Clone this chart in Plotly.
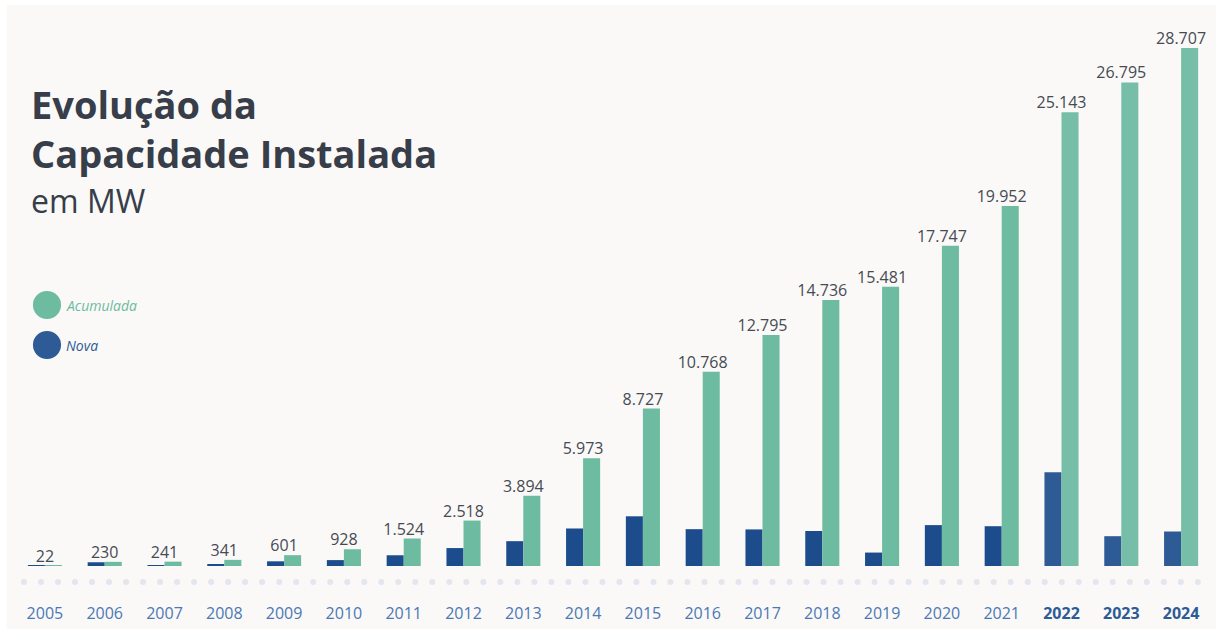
import plotly.graph_objects as go
import numpy as np

years = [str(y) for y in range(2005, 2025)]
acumulada = [22, 230, 241, 341, 601, 928, 1524, 2518, 3894, 5973, 8727,
             10768, 12795, 14736, 15481, 17747, 19952, 25143, 26795, 28707]
nova = [22, 208, 11, 100, 260, 327, 596, 994, 1376, 2079, 2754,
        2041, 2027, 1941, 745, 2266, 2205, 5191, 1652, 1912]
highlight_years = ["2022", "2023", "2024"]

GREEN = "#6dbba0"
GREEN_L = "#76bea7"
BLUE = "#1c4c8c"
BLUE_L = "#2e5b95"
TICK = "#4a78b4"
TEXT = "#373e49"
BG = "#faf9f8"

nova_colors = [BLUE_L if y in highlight_years else BLUE for y in years]
acum_colors = [GREEN_L if y in highlight_years else GREEN for y in years]
labels = [f"{v:,}".replace(",", ".") for v in acumulada]

fig = go.Figure()
fig.add_trace(go.Bar(x=years, y=nova, name="Nova", marker=dict(color=nova_colors, line=dict(width=0)),
                     hoverinfo="x+y"))
fig.add_trace(go.Bar(x=years, y=acumulada, name="Acumulada",
                     marker=dict(color=acum_colors, line=dict(width=0)), hoverinfo="x+y"))

# value labels
fig.add_trace(go.Scatter(x=years, y=acumulada, mode="text", text=labels, textposition="top center",
                         cliponaxis=False, hoverinfo="skip", showlegend=False,
                         textfont=dict(family="Open Sans", size=16, color="#464b53")))

# tick labels
ticktext = [f"<b><span style='color:{BLUE_L}'>{y}</span></b>" if y in highlight_years else y for y in years]

# dotted baseline decoration (pixel-based overlay axis)
dots_x = np.linspace(0.0075, 0.989, 70)
fig.add_trace(go.Scatter(x=dots_x, y=[-16] * len(dots_x), mode="markers", xaxis="x2", yaxis="y2",
                         marker=dict(size=6, color="#e3e6ee"), hoverinfo="skip", showlegend=False))

PX_TOTAL = 579          # plot-area height in pixels
PX_BELOW = 33           # pixels kept below the zero line
Y_TOP = 30258
per_px = Y_TOP / (PX_TOTAL - PX_BELOW)

fig.update_layout(
    width=1216, height=629,
    margin=dict(l=15, r=5, t=20, b=30, autoexpand=False),
    paper_bgcolor="white", plot_bgcolor="rgba(0,0,0,0)",
    barmode="group", bargap=0.43, bargroupgap=0,
    showlegend=False,
    xaxis=dict(type="category", categoryorder="array", categoryarray=years, range=[-0.5, 19.5],
               tickvals=years, ticktext=ticktext, showgrid=False, zeroline=False,
               showline=False, ticks="", ticklabelstandoff=3, tickangle=0, automargin=False,
               tickfont=dict(family="Open Sans", size=16, color=TICK)),
    yaxis=dict(range=[-PX_BELOW * per_px, Y_TOP], visible=False, showgrid=False, zeroline=False),
    xaxis2=dict(range=[0, 1], overlaying="x", visible=False),
    yaxis2=dict(range=[-PX_BELOW, PX_TOTAL - PX_BELOW], overlaying="y", visible=False),
    font=dict(family="Open Sans"),
)

# background panel
fig.add_shape(type="rect", xref="paper", yref="paper", x0=-0.007, x1=1.01, y0=-0.2, y1=1.026,
              fillcolor=BG, line=dict(width=0), layer="below")

# title (paper y measured over the 579 px plot area, top at 20 px)
def py(pix):
    return 1 - (pix - 20) / PX_TOTAL

fig.add_annotation(xref="paper", yref="paper", x=0.0, xshift=14, y=py(76), xanchor="left", yanchor="top",
                   text="<b>Evolução da<br>Capacidade Instalada</b>", showarrow=False, align="left",
                   font=dict(family="Open Sans", size=38, color=TEXT))
fig.add_annotation(xref="paper", yref="paper", x=0.0, xshift=14, y=py(177), xanchor="left", yanchor="top",
                   text="em MW", showarrow=False, align="left",
                   font=dict(family="Open Sans", size=32, color=TEXT))

# legend
for name, col, pix in [("Acumulada", GREEN, 305), ("Nova", BLUE_L, 345)]:
    fig.add_shape(type="circle", xref="paper", yref="paper", x0=0.015, x1=0.0385,
                  y0=py(pix + 14), y1=py(pix - 14), fillcolor=col, line=dict(width=0))
    fig.add_annotation(xref="paper", yref="paper", x=0.041, y=py(pix), xanchor="left", yanchor="middle",
                       text=f"<i>{name}</i>", showarrow=False,
                       font=dict(family="Open Sans", size=14, color=col))

fig.write_html("out.html", config={"displayModeBar": False},
               post_script="document.body.style.margin='0';document.body.style.overflow='hidden';")
